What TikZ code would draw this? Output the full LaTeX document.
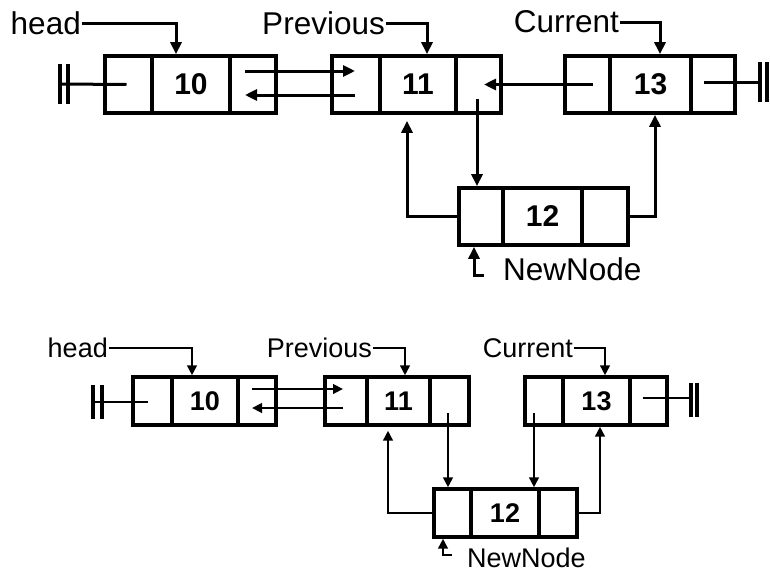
\documentclass[tikz,border=0pt]{standalone}
\usepackage{fontspec}
\setmainfont{Liberation Sans}
\usetikzlibrary{arrows.meta, positioning}

\begin{document}
\begin{tikzpicture}[
		x=1pt, y=-1pt,
		cell/.style={rectangle, draw, line width=3.7pt, inner sep=0pt},
		bigcell/.style={cell, minimum height=57pt, font=\fontsize{30}{34}\selectfont\bfseries},
		smallcell/.style={cell, line width=3.3pt, minimum height=48pt, font=\fontsize{27}{31}\selectfont\bfseries},
		biglbl/.style={inner sep=1pt, font=\fontsize{31.5}{36}\selectfont},
		smalllbl/.style={inner sep=1pt, font=\fontsize{27}{31}\selectfont},
		link/.style={line width=3pt},
		arrow/.style={-{Triangle[length=12pt, width=11pt]}, line width=3pt},
		sarrow/.style={-{Triangle[length=10pt, width=9.5pt]}, line width=2.8pt},
		gnd/.style={line width=3.7pt}
		]
		\useasboundingbox (0,0) rectangle (770,573);

		% ---------- before ----------
		% Nodes
		\node[bigcell, minimum width=47pt] (t10a) at (128.5,84.5) {};
		\node[bigcell, minimum width=78pt] (t10)  at (191,84.5) {10};
		\node[bigcell, minimum width=46pt] (t10b) at (253,84.5) {};
		\node[bigcell, minimum width=48pt] (t11a) at (356,84.5) {};
		\node[bigcell, minimum width=76pt] (t11)  at (418,84.5) {11};
		\node[bigcell, minimum width=45pt] (t11b) at (478.5,84.5) {};
		\node[bigcell, minimum width=45pt] (t13a) at (587.5,84.5) {};
		\node[bigcell, minimum width=81pt] (t13)  at (650.5,84.5) {13};
		\node[bigcell, minimum width=44pt] (t13b) at (713,84.5) {};
		\node[bigcell, minimum width=44pt] (t12a) at (481,216.5) {};
		\node[bigcell, minimum width=79pt] (t12)  at (542.5,216.5) {12};
		\node[bigcell, minimum width=46pt] (t12b) at (605,216.5) {};

		\node[biglbl, anchor=east] (hd1) at (82,23) {head};
		\node[biglbl, anchor=east] (pv1) at (386,23) {Previous};
		\node[biglbl, anchor=east] (cu1) at (620,22) {Current};
		\node[biglbl, anchor=west] (nn1) at (502,269) {NewNode};

		\coordinate (g1) at (60,84);
		\coordinate (g2) at (760,82);

		% Arrows
		\draw[arrow] (hd1.east) -| ([xshift=-15pt]t10.north);
		\draw[arrow] (pv1.east) -| ([xshift=9pt]t11.north);
		\draw[arrow] (cu1.east) -| ([xshift=9.5pt]t13.north);
		\draw[arrow] ([shift={(-8,-13.5)}]t10b.center) -- ([shift={(-1,-13.5)}]t11a.center);
		\draw[arrow] ([shift={(-1,10.5)}]t11a.center) -- ([shift={(-8,10.5)}]t10b.center);
		\draw[arrow] ([shift={(5.5,0)}]t13a.center) -- ([shift={(5.5,0)}]t11b.center);
		\draw[arrow] ([shift={(-1.5,14.5)}]t11b.center) -- ([xshift=-4pt]t12a.north);
		\draw[arrow, shorten >=6pt] (t12a.west) -| ([xshift=-11pt]t11.south);
		\draw[arrow] (t12b.east) -| ([xshift=4.5pt]t13.south);
		\draw[arrow] ([shift={(-18,6)}]nn1.west) -| ([xshift=-7pt]t12a.south);

		% Ground ends
		\draw[link] (g1) -- ([shift={(-2,0)}]t10a.center);
		\draw[link] (g2) -- ([shift={(-9,-2.5)}]t13b.center);
		\draw[gnd] ([yshift=20pt]g1) -- ([yshift=-20pt]g1);
		\draw[gnd] ([shift={(8,-20)}]g1) -- ([shift={(8,20)}]g1);
		\draw[gnd] ([yshift=20pt]g2) -- ([yshift=-20pt]g2);
		\draw[gnd] ([shift={(7,-20)}]g2) -- ([shift={(7,20)}]g2);

		% ---------- after ----------
		% Nodes
		\node[smallcell, minimum width=39pt] (b10a) at (152.5,401) {};
		\node[smallcell, minimum width=66pt] (b10)  at (205,401) {10};
		\node[smallcell, minimum width=38pt] (b10b) at (257,401) {};
		\node[smallcell, minimum width=42pt] (b11a) at (346,401) {};
		\node[smallcell, minimum width=63pt] (b11)  at (398.5,401) {11};
		\node[smallcell, minimum width=39pt] (b11b) at (449.5,401) {};
		\node[smallcell, minimum width=38pt] (b13a) at (544,401) {};
		\node[smallcell, minimum width=67pt] (b13)  at (596.5,401) {13};
		\node[smallcell, minimum width=37pt] (b13b) at (648.5,401) {};
		\node[smallcell, minimum width=37pt] (b12a) at (452.5,513) {};
		\node[smallcell, minimum width=68pt] (b12)  at (505,513) {12};
		\node[smallcell, minimum width=38pt] (b12b) at (558,513) {};

		\node[smalllbl, anchor=east] (hd2) at (109,348) {head};
		\node[smalllbl, anchor=east] (pv2) at (373,348) {Previous};
		\node[smalllbl, anchor=east] (cu2) at (574,348) {Current};
		\node[smalllbl, anchor=west] (nn2) at (466,558) {NewNode};

		\coordinate (g3) at (93,402);
		\coordinate (g4) at (691,398);

		% Arrows
		\draw[sarrow] (hd2.east) -| ([xshift=-13pt]b10.north);
		\draw[sarrow] (pv2.east) -| ([xshift=6.5pt]b11.north);
		\draw[sarrow] (cu2.east) -| ([xshift=8.5pt]b13.north);
		\draw[sarrow] ([shift={(-5,-12)}]b10b.center) -- ([shift={(-3,-12)}]b11a.center);
		\draw[sarrow] ([shift={(-3,7)}]b11a.center) -- ([shift={(-5,7)}]b10b.center);
		\draw[sarrow] ([shift={(-1.5,12)}]b11b.center) -- ([xshift=-4.5pt]b12a.north);
		\draw[sarrow] ([shift={(-10,12)}]b13a.center) -- ([xshift=29pt]b12.north);
		\draw[sarrow, shorten >=4pt] (b12a.west) -| ([xshift=-10.5pt]b11.south);
		\draw[sarrow] (b12b.east) -| ([xshift=3.5pt]b13.south);
		\draw[sarrow] ([shift={(-14,-3)}]nn2.west) -| ([xshift=-9.5pt]b12a.south);

		% Ground ends
		\draw[link, line width=2.8pt] (g3) -- ([shift={(-4.5,1)}]b10a.center);
		\draw[link, line width=2.8pt] (g4) -- ([shift={(-5.5,-3)}]b13b.center);
		\draw[gnd, line width=3.2pt] ([yshift=17pt]g3) -- ([yshift=-17pt]g3);
		\draw[gnd, line width=3.2pt] ([shift={(9,-17)}]g3) -- ([shift={(9,17)}]g3);
		\draw[gnd, line width=3.2pt] ([shift={(0,-15)}]g4) -- ([shift={(0,19)}]g4);
		\draw[gnd, line width=3.2pt] ([shift={(6,-15)}]g4) -- ([shift={(6,19)}]g4);
	\end{tikzpicture}
\end{document}
